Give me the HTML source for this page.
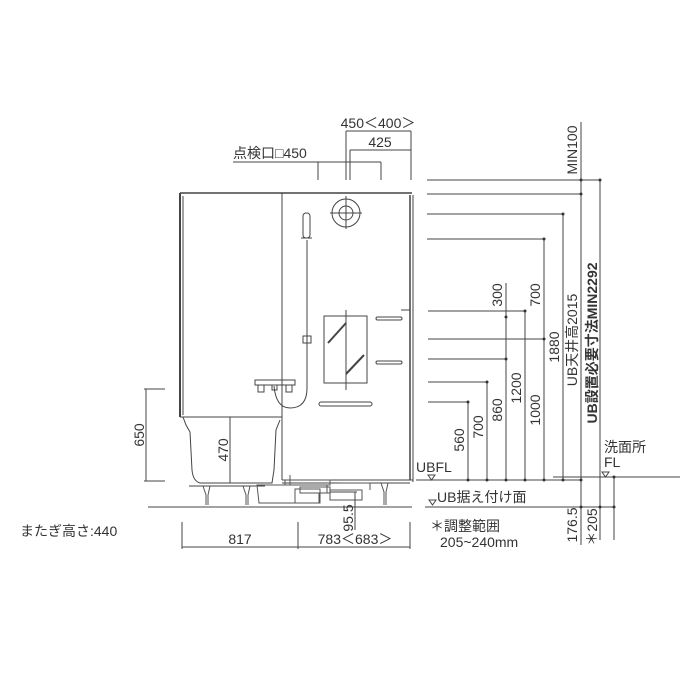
<!DOCTYPE html>
<html><head><meta charset="utf-8"><style>
html,body{margin:0;padding:0;background:#fff}
svg{display:block}
text{font-family:"Liberation Sans","Noto Sans CJK JP",sans-serif;fill:#333;font-size:14px}
</style></head><body>
<svg width="680" height="680" viewBox="0 0 680 680" xmlns="http://www.w3.org/2000/svg">
<g stroke="#444" stroke-width="1" fill="none">
<line x1="180" y1="193" x2="412" y2="193" stroke-width="1.5"/>
<line x1="180" y1="193" x2="180" y2="417" stroke-width="2"/>
<line x1="183" y1="196" x2="183" y2="415"/>
<line x1="410" y1="195" x2="410" y2="480" stroke-width="1.5"/>
<line x1="413" y1="195" x2="413" y2="482"/>
<line x1="282" y1="193" x2="282" y2="480"/>
<line x1="180" y1="417" x2="282" y2="417"/>
<line x1="282" y1="480" x2="413" y2="480"/>
<line x1="282" y1="483" x2="410" y2="483"/>
<path d="M183 417 L186 425 L190 432 L192 470 Q193 481 200 483 L272 483 L274 470 L276 430 L280 420"/>
<path d="M189 486 L265 486"/>
<line x1="230" y1="417" x2="230" y2="483"/>
<g stroke="#555">
<path d="M203 486 L206 495 L206 505 M210 486 L208 495 L208 505"/>
<path d="M243 486 L246 495 L246 505 M250 486 L248 495 L248 505"/>
<path d="M381 483 L384 492 L384 505 M388 483 L386 492 L386 505"/>
<path d="M257 485 h70 v8 h-8 v10 h-60z"/>
<path d="M290 475 v10 M285 480 h45 v5 h-45z"/>
<path d="M300 487 h30 v6 h-30z M330 490 h32 v10 h-32z M340 483 h30 v7"/>
<path d="M295 489 h25 v14 h-25z"/>
</g>
<line x1="148" y1="507" x2="412" y2="507"/>
<circle cx="346" cy="213" r="14"/>
<circle cx="346" cy="213" r="7"/>
<line x1="330" y1="213" x2="362" y2="213"/>
<line x1="346" y1="196" x2="346" y2="229"/>
<rect x="303" y="213" width="7" height="25" rx="3"/>
<line x1="301" y1="238" x2="312" y2="238"/>
<line x1="307" y1="240" x2="307" y2="388"/>
<rect x="303" y="336" width="8" height="7"/>
<path d="M274 386 Q276 408 290 408 Q307 408 307 388"/>
<rect x="255" y="380" width="40" height="5"/>
<rect x="258" y="385" width="6" height="7"/>
<rect x="286" y="385" width="6" height="7"/>
<rect x="272" y="385" width="5" height="5"/>
<rect x="324" y="316" width="43" height="67"/>
<line x1="346" y1="310" x2="346" y2="390"/>
<line x1="328" y1="343" x2="346" y2="323" stroke-width="2"/>
<line x1="346" y1="374" x2="364" y2="355" stroke-width="2"/>
<rect x="376" y="317" width="26" height="3" rx="1.5"/>
<rect x="376" y="361" width="26" height="3" rx="1.5"/>
<rect x="319" y="402" width="53" height="4" rx="2"/>
<line x1="401" y1="310" x2="410" y2="310"/>
<line x1="346" y1="131" x2="411" y2="131"/>
<line x1="350" y1="150" x2="411" y2="150"/>
<line x1="233" y1="162" x2="381" y2="162"/>
<line x1="318" y1="162" x2="318" y2="180"/>
<line x1="346" y1="131" x2="346" y2="180"/>
<line x1="350" y1="150" x2="350" y2="180"/>
<line x1="381" y1="162" x2="381" y2="180"/>
<line x1="411" y1="131" x2="411" y2="180"/>
<line x1="146" y1="389" x2="146" y2="481"/>
<line x1="144" y1="389" x2="165" y2="389"/>
<line x1="144" y1="481" x2="165" y2="481"/>
<line x1="182" y1="547" x2="410" y2="547"/>
<line x1="182" y1="522" x2="182" y2="549"/>
<line x1="298" y1="522" x2="298" y2="549"/>
<line x1="410" y1="522" x2="410" y2="549"/>
<line x1="355" y1="492" x2="355" y2="530"/>
<line x1="330" y1="492" x2="357" y2="492"/>
<line x1="427" y1="180" x2="600" y2="180"/>
<line x1="427" y1="194" x2="581" y2="194"/>
<line x1="427" y1="214" x2="563" y2="214"/>
<line x1="427" y1="239" x2="544" y2="239"/>
<line x1="428" y1="311" x2="525" y2="311"/>
<line x1="428" y1="339" x2="544" y2="339"/>
<line x1="428" y1="359" x2="506" y2="359"/>
<line x1="428" y1="382" x2="487" y2="382"/>
<line x1="428" y1="402" x2="468" y2="402"/>
<line x1="468" y1="402" x2="468" y2="480"/>
<line x1="487" y1="382" x2="487" y2="480"/>
<line x1="506" y1="283" x2="506" y2="480"/>
<line x1="525" y1="311" x2="525" y2="480"/>
<line x1="544" y1="239" x2="544" y2="480"/>
<line x1="563" y1="214" x2="563" y2="480"/>
<line x1="581" y1="122" x2="581" y2="545"/>
<line x1="600" y1="180" x2="600" y2="540"/>
<line x1="614" y1="477" x2="614" y2="540"/>
<line x1="416" y1="480" x2="581" y2="480"/>
<line x1="553" y1="477" x2="680" y2="477"/>
<line x1="425" y1="507" x2="615" y2="507"/>
<path d="M428 475 l7 0 l-3.5 5z"/>
<path d="M429 500 l7 0 l-3.5 5z"/>
<path d="M602 472 l7 0 l-3.5 5z"/>
</g>
<g fill="#333">
<circle cx="581" cy="180" r="1.5"/><circle cx="600" cy="180" r="1.5"/><circle cx="581" cy="194" r="1.5"/>
<circle cx="563" cy="214" r="1.5"/><circle cx="544" cy="239" r="1.5"/><circle cx="525" cy="311" r="1.5"/>
<circle cx="506" cy="317" r="1.5"/><circle cx="544" cy="339" r="1.5"/><circle cx="506" cy="359" r="1.5"/>
<circle cx="487" cy="382" r="1.5"/><circle cx="468" cy="402" r="1.5"/>
<circle cx="468" cy="480" r="1.5"/><circle cx="487" cy="480" r="1.5"/><circle cx="506" cy="480" r="1.5"/>
<circle cx="525" cy="480" r="1.5"/><circle cx="544" cy="480" r="1.5"/><circle cx="563" cy="480" r="1.5"/><circle cx="581" cy="480" r="1.5"/>
<circle cx="581" cy="507" r="1.5"/><circle cx="600" cy="507" r="1.5"/><circle cx="614" cy="507" r="1.5"/><circle cx="614" cy="477" r="1.5"/>
</g>
<text x="378" y="128" text-anchor="middle">450＜400＞</text>
<text x="380" y="147" text-anchor="middle">425</text>
<text x="233" y="158">点検口□450</text>
<text x="20" y="536" font-size="16">またぎ高さ:440</text>
<text x="240" y="544" text-anchor="middle">817</text>
<text x="355" y="544" text-anchor="middle">783＜683＞</text>
<text x="416" y="472">UBFL</text>
<text x="437" y="502">UB据え付け面</text>
<text x="430" y="531">＊調整範囲</text>
<text x="440" y="547">205~240mm</text>
<text x="604" y="452">洗面所</text>
<text x="604" y="467">FL</text>
<g>
<text transform="translate(144,435) rotate(-90)" text-anchor="middle">650</text>
<text transform="translate(228,450) rotate(-90)" text-anchor="middle">470</text>
<text transform="translate(353,518) rotate(-90)" text-anchor="middle">95.5</text>
<text transform="translate(464,440) rotate(-90)" text-anchor="middle">560</text>
<text transform="translate(483,427) rotate(-90)" text-anchor="middle">700</text>
<text transform="translate(502,410) rotate(-90)" text-anchor="middle">860</text>
<text transform="translate(502,295) rotate(-90)" text-anchor="middle">300</text>
<text transform="translate(521,388) rotate(-90)" text-anchor="middle">1200</text>
<text transform="translate(540,295) rotate(-90)" text-anchor="middle">700</text>
<text transform="translate(540,410) rotate(-90)" text-anchor="middle">1000</text>
<text transform="translate(559,347) rotate(-90)" text-anchor="middle">1880</text>
<text transform="translate(577,340) rotate(-90)" text-anchor="middle">UB天井高2015</text>
<text transform="translate(597,343) rotate(-90)" text-anchor="middle" font-weight="bold">UB設置必要寸法MIN2292</text>
<text transform="translate(577,150) rotate(-90)" text-anchor="middle">MIN100</text>
<text transform="translate(577,525) rotate(-90)" text-anchor="middle">176.5</text>
<text transform="translate(597,527) rotate(-90)" text-anchor="middle">＊205</text>
</g>
</svg>
</body></html>
